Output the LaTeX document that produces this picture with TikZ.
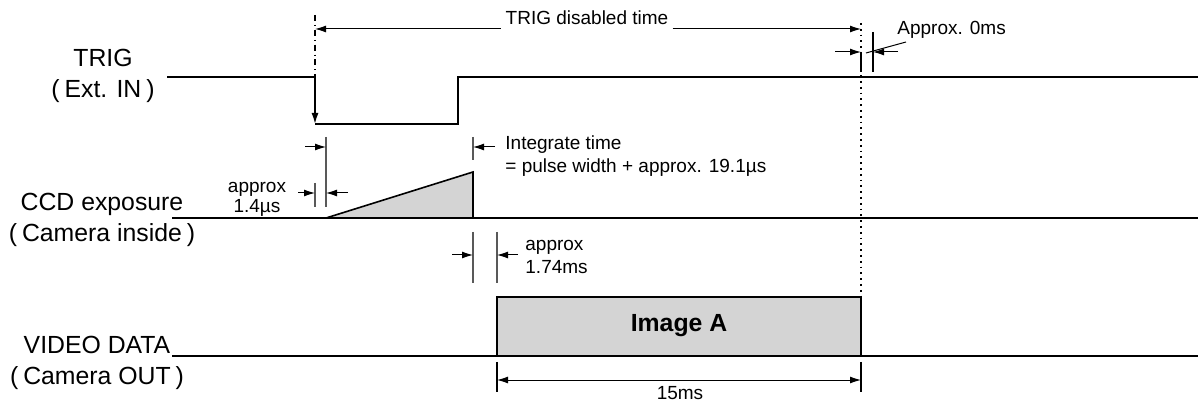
\documentclass[tikz,border=0pt]{standalone}
\usepackage{fontspec}
\setmainfont{Liberation Sans}
\usetikzlibrary{arrows.meta}
\newcommand{\lp}{(\hspace{0.2em}}
\newcommand{\rp}{\hspace{0.2em})}
\begin{document}
\begin{tikzpicture}[x=0.5pt,y=-0.5pt,>={Latex[length=5.5pt,width=3.5pt]}]
\tikzset{sig/.style={line width=0.8pt},tick/.style={color=black!65,line width=0.6pt},
dim/.style={->,line width=0.5pt},hatch/.style={fill=black!17},
lbl/.style={font=\fontsize{12.4}{15.5}\selectfont,align=center,inner sep=0pt},
note/.style={font=\fontsize{9.5}{11.5}\selectfont,inner sep=0pt}}
\useasboundingbox (0,0) rectangle (1198,405);
\node[lbl] (trig) at (103,76) {TRIG\\\lp Ext. IN\rp};
\node[lbl] (ccd) at (102,220) {CCD exposure\\\lp Camera inside\rp};
\node[lbl] (video) at (97,363) {VIDEO DATA\\\lp Camera OUT\rp};
\draw[sig] (167,77) -- (315,77);
\draw[sig,->] (315,77) -- (315,124);
\draw[sig] (315,124) -- (458,124) -- (458,77) -- (1198,77);
\draw[sig] (172,218) -- (1198,218);
\filldraw[sig,hatch] (326,218) -- (473,172) -- (473,218) -- cycle;
\draw[sig] (172,356) -- (1198,356);
\filldraw[sig,hatch] (497,356) rectangle (861,297);
\node[font=\fontsize{12.4}{15}\selectfont\bfseries] (imga) at (679,326) {Image A};
\draw[dash dot,line width=0.6pt] (315,15) -- (315,77);
\draw[dotted,line width=0.9pt] (861,23) -- (861,297);
\coordinate (tdl) at (315,29);
\coordinate (tdr) at (861,29);
\node[note,anchor=base] (tdtxt) at (587,25) {TRIG disabled time};
\draw[<-,line width=0.5pt] (tdl) -- ([xshift=-2pt]tdtxt.west |- tdl);
\draw[->,line width=0.5pt] ([xshift=2pt]tdtxt.east |- tdl) -- (tdr);
\foreach \x/\ya/\yb in {873/32/72,861/52/72}
\draw[line width=0.8pt] (\x,\ya) -- (\x,\yb);
\foreach \x/\ya/\yb in {315/183/207,326/137/207,473/137/160,473/232/283,497/232/283}
\draw[tick] (\x,\ya) -- (\x,\yb);
\foreach \xa/\xb/\y in {835/861/52,898/873/52,298/315/193,348/326/193,305/326/147,495/473/147,452/473/255,518/497/255}
\draw[dim] (\xa,\y) -- (\xb,\y);
\node[note,anchor=base west] (zero) at (897,35) {Approx. 0ms};
\coordinate (zl) at (866,53);
\draw[line width=0.5pt] (zl) -- ([xshift=4.5pt,yshift=-3.5pt]zero.base west);
\node[note,align=center,anchor=north,font=\fontsize{9.5}{9.7}\selectfont] (ex) at (257,182) {approx\\1.4µs};
\node[note,align=left,anchor=north west] (integ) at (505,135) {Integrate time\\= pulse width + approx. 19.1µs};
\node[note,align=left,anchor=north west] (dly) at (525,240) {approx\\1.74ms};
\foreach \x in {497,861}
\draw[line width=0.9pt] (\x,362) -- (\x,392);
\draw[<->,line width=0.5pt] (497,380) -- (861,380);
\node[note,anchor=base] (len) at (680,400) {15ms};
\end{tikzpicture}
\end{document}
